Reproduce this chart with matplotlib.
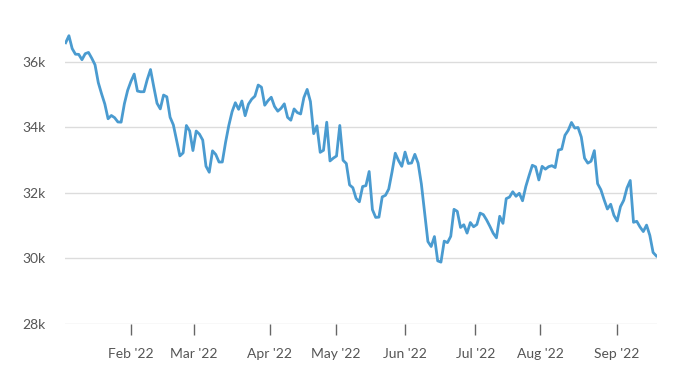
import numpy as np
import matplotlib.pyplot as plt
from matplotlib.ticker import FuncFormatter

plt.rcParams["font.family"] = ["Lato", "DejaVu Sans"]

# daily closes, trading days Jan 3 - Sep 22 2022
jan = [36585, 36800, 36407, 36236, 36231, 36068, 36252, 36290, 36113, 35912,
       35369, 35029, 34715, 34265, 34365, 34298, 34168, 34161, 34725, 35132]
feb = [35405, 35629, 35111, 35089, 35091, 35463, 35768, 35241, 34738, 34566,
       34989, 34935, 34312, 34079, 33597, 33131, 33224, 34059, 33893]
mar = [33295, 33891, 33795, 33615, 32818, 32633, 33286, 33174, 32944, 32945,
       33545, 34063, 34481, 34755, 34553, 34808, 34359, 34708, 34862, 34956,
       35294, 35229, 34678]
apr = [34818, 34922, 34642, 34497, 34584, 34721, 34309, 34221, 34565, 34452,
       34412, 34912, 35161, 34793, 33811, 34049, 33240, 33302, 34160, 32977]
may = [33062, 33129, 34061, 32998, 32899, 32246, 32161, 31834, 31730, 32197,
       32223, 32655, 31490, 31254, 31262, 31880, 31929, 32120, 32637, 33213,
       32990]
jun = [32813, 33248, 32900, 32916, 33180, 32910, 32273, 31393, 30517, 30365,
       30669, 29927, 29889, 30530, 30484, 30677, 31501, 31439, 30947, 31029,
       30775]
jul = [31097, 30968, 31037, 31385, 31338, 31174, 30981, 30773, 30630, 31288,
       31073, 31827, 31875, 32037, 31899, 31990, 31762, 32198, 32530, 32845]
aug = [32798, 32397, 32813, 32727, 32803, 32833, 32775, 33310, 33337, 33761,
       33913, 34152, 33981, 33999, 33707, 33064, 32910, 32970, 33292, 32283,
       32099, 31791, 31510]
sep = [31656, 31318, 31145, 31581, 31775, 32152, 32381, 31105, 31135, 30961,
       30822, 31019, 30706, 30184, 30077]

months = [jan, feb, mar, apr, may, jun, jul, aug, sep]
month_labels = ["Feb '22", "Mar '22", "Apr '22", "May '22", "Jun '22",
                "Jul '22", "Aug '22", "Sep '22"]
# label positions in trading-day units, as they sit on the reference axis
tick_pos = [20, 39.3, 62.5, 82.7, 104.1, 125.5, 145.4, 169]

values = np.concatenate([np.array(m) for m in months])
x = np.arange(len(values))

fig = plt.figure(figsize=(6.8, 3.73), dpi=100)
ax = fig.add_axes([65 / 680, 1 - 324 / 373, 592 / 680, 304 / 373])

ax.plot(x, values, color="#4a9bd0", lw=2.0, solid_joinstyle="round", zorder=3)

ax.set_xlim(-0.2, len(values) - 1 + 0.2)
ax.set_ylim(28000, 37280)
ax.set_yticks(np.arange(28000, 36001, 2000))
ax.yaxis.set_major_formatter(FuncFormatter(lambda v, p: f"{int(v / 1000)}k"))
ax.grid(axis="y", color="#dcdcdc", lw=1.0)
ax.set_axisbelow(True)

ax.set_xticks(tick_pos)
ax.set_xticklabels(month_labels)

for s in ax.spines.values():
    s.set_visible(False)

ax.tick_params(axis="y", length=0, pad=14, labelsize=10, labelcolor="#555555")
ax.tick_params(axis="x", length=8, width=1, color="#666666", pad=9,
               labelsize=10, labelcolor="#555555")

fig.savefig("out.png", dpi=100)
